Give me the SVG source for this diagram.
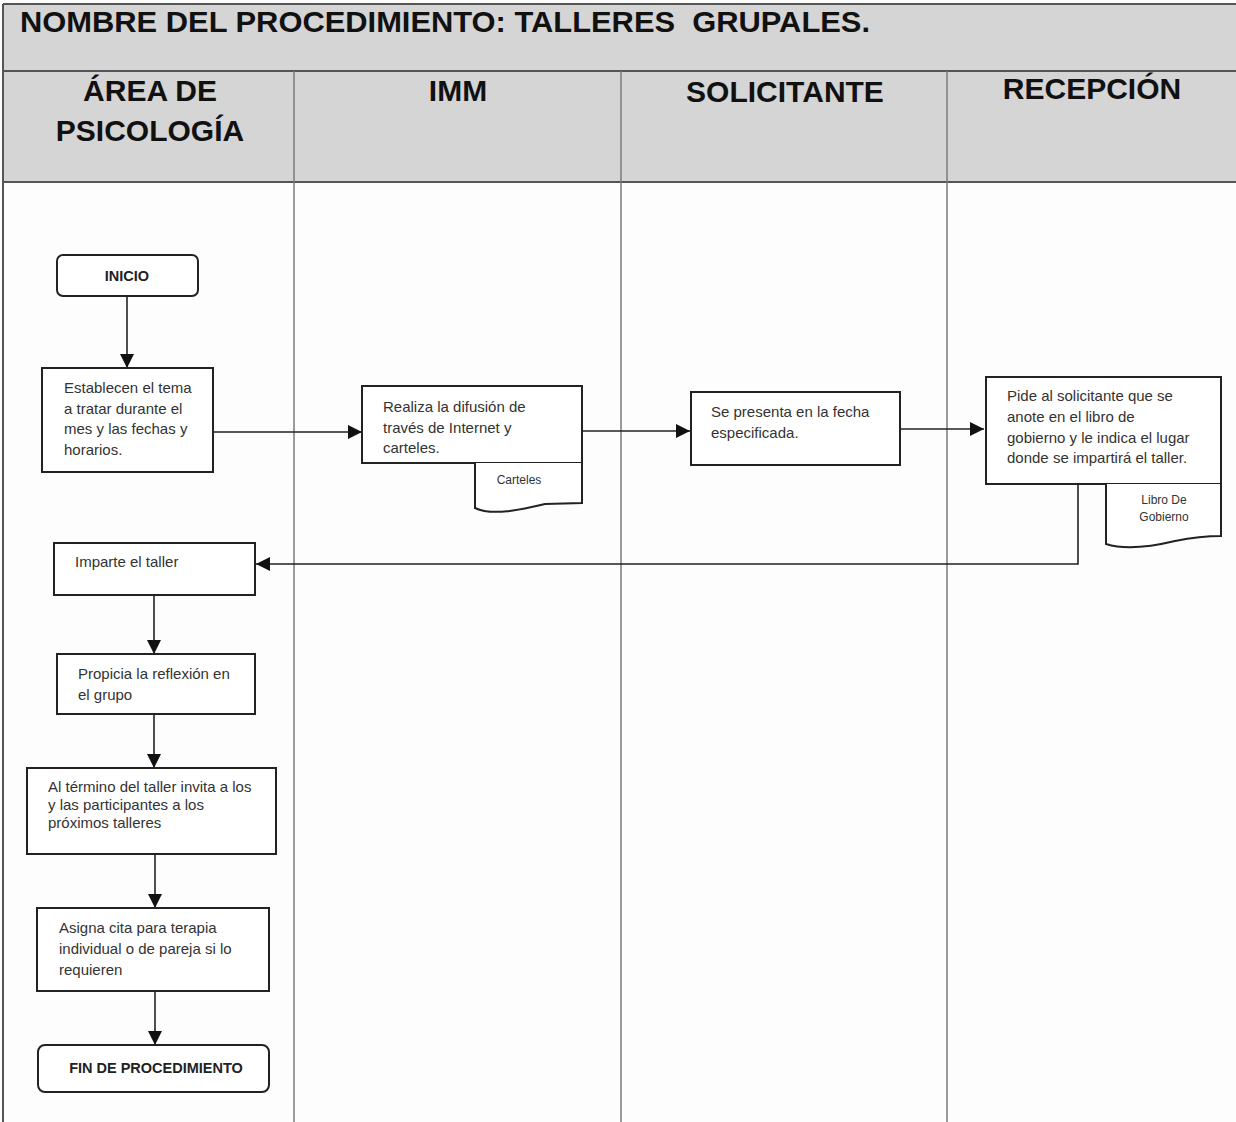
<svg xmlns="http://www.w3.org/2000/svg" width="1236" height="1122" viewBox="0 0 1236 1122">
  <style>
    .band { fill: #d5d5d5; }
    .rule { stroke: #555; stroke-width: 2; fill: none; }
    .lane { stroke: #7a7a7a; stroke-width: 1.5; fill: none; }
    .title { font-family: "Liberation Sans", Arial, sans-serif; font-weight: bold; font-size: 30px; fill: #111; }
    .head { font-family: "Liberation Sans", Arial, sans-serif; font-weight: bold; font-size: 30px; fill: #111; text-anchor: middle; }
    .box { fill: #fff; stroke: #222; stroke-width: 2; }
    .txt { font-family: "Liberation Sans", Arial, sans-serif; font-size: 15px; fill: #333; }
    .term { font-family: "Liberation Sans", Arial, sans-serif; font-weight: bold; font-size: 14.5px; fill: #222; text-anchor: middle; }
    .doc { font-family: "Liberation Sans", Arial, sans-serif; font-size: 12px; fill: #333; text-anchor: middle; }
    .flow { stroke: #222; stroke-width: 1.6; fill: none; }
  </style>
  <defs>
    <marker id="arrow" markerUnits="userSpaceOnUse" markerWidth="16" markerHeight="16" refX="14" refY="7" orient="auto">
      <path d="M0,0 L14,7 L0,14 Z" fill="#111"/>
    </marker>
  </defs>

  <!-- page background -->
  <rect x="0" y="0" width="1236" height="1122" fill="#fdfdfd"/>

  <!-- header band: procedure name and lane titles -->
  <g id="header">
    <rect class="band" x="3" y="4" width="1233" height="178"/>
    <line class="rule" x1="3" y1="4" x2="1236" y2="4"/>
    <line class="rule" x1="3" y1="4" x2="3" y2="1122"/>
    <line class="rule" x1="3" y1="71" x2="1236" y2="71"/>
    <line class="rule" x1="3" y1="182" x2="1236" y2="182"/>
    <text class="title" x="20" y="32" textLength="850" lengthAdjust="spacingAndGlyphs">NOMBRE DEL PROCEDIMIENTO: TALLERES&#160; GRUPALES.</text>
    <text class="head" x="150" y="101">ÁREA DE</text>
    <text class="head" x="150" y="141">PSICOLOGÍA</text>
    <text class="head" x="458" y="101">IMM</text>
    <text class="head" x="785" y="102">SOLICITANTE</text>
    <text class="head" x="1092" y="99">RECEPCIÓN</text>
  </g>

  <!-- swimlane dividers -->
  <g id="lanes">
    <line class="lane" x1="294" y1="71" x2="294" y2="1122"/>
    <line class="lane" x1="621" y1="71" x2="621" y2="1122"/>
    <line class="lane" x1="947" y1="71" x2="947" y2="1122"/>
  </g>

  <!-- connectors -->
  <g id="connectors">
    <line class="flow" x1="127" y1="296" x2="127" y2="368" marker-end="url(#arrow)"/>
    <line class="flow" x1="213" y1="432" x2="362" y2="432" marker-end="url(#arrow)"/>
    <line class="flow" x1="582" y1="431" x2="690" y2="431" marker-end="url(#arrow)"/>
    <line class="flow" x1="900" y1="429" x2="984" y2="429" marker-end="url(#arrow)"/>
    <polyline class="flow" points="1078,484 1078,564 256,564" marker-end="url(#arrow)"/>
    <line class="flow" x1="154" y1="595" x2="154" y2="654" marker-end="url(#arrow)"/>
    <line class="flow" x1="154" y1="714" x2="154" y2="768" marker-end="url(#arrow)"/>
    <line class="flow" x1="155" y1="854" x2="155" y2="908" marker-end="url(#arrow)"/>
    <line class="flow" x1="155" y1="991" x2="155" y2="1045" marker-end="url(#arrow)"/>
  </g>

  <g id="inicio">
    <rect class="box" x="57" y="255" width="141" height="41" rx="6"/>
    <text class="term" x="127" y="281">INICIO</text>
  </g>

  <g id="establecen">
    <rect class="box" x="42" y="368" width="171" height="104"/>
    <text class="txt" x="64" y="393">Establecen el tema</text>
    <text class="txt" x="64" y="414">a tratar durante el</text>
    <text class="txt" x="64" y="434">mes y las fechas y</text>
    <text class="txt" x="64" y="455">horarios.</text>
  </g>

  <g id="difusion">
    <rect class="box" x="362" y="386" width="220" height="77"/>
    <text class="txt" x="383" y="412">Realiza la difusión de</text>
    <text class="txt" x="383" y="433">través de Internet y</text>
    <text class="txt" x="383" y="453">carteles.</text>
  </g>

  <g id="carteles">
    <path class="box" d="M475,463 L475,508 C492,516 520,510 545,504 L582,503 L582,463"/>
    <text class="doc" x="519" y="484">Carteles</text>
  </g>

  <g id="presenta">
    <rect class="box" x="691" y="392" width="209" height="73"/>
    <text class="txt" x="711" y="417">Se presenta en la fecha</text>
    <text class="txt" x="711" y="438">especificada.</text>
  </g>

  <g id="anota">
    <rect class="box" x="986" y="377" width="235" height="107"/>
    <text class="txt" x="1007" y="401">Pide al solicitante que se</text>
    <text class="txt" x="1007" y="422">anote en el libro de</text>
    <text class="txt" x="1007" y="443">gobierno y le indica el lugar</text>
    <text class="txt" x="1007" y="463">donde se impartirá el taller.</text>
  </g>

  <g id="libro">
    <path class="box" d="M1106,484 L1106,544 C1125,550 1150,547 1175,541 C1195,537 1210,536 1221,536 L1221,484"/>
    <text class="doc" x="1164" y="504">Libro De</text>
    <text class="doc" x="1164" y="521">Gobierno</text>
  </g>

  <g id="imparte">
    <rect class="box" x="54" y="543" width="201" height="52"/>
    <text class="txt" x="75" y="567">Imparte el taller</text>
  </g>

  <g id="reflexion">
    <rect class="box" x="57" y="654" width="198" height="60"/>
    <text class="txt" x="78" y="679">Propicia la reflexión en</text>
    <text class="txt" x="78" y="700">el grupo</text>
  </g>

  <g id="invita">
    <rect class="box" x="27" y="768" width="249" height="86"/>
    <text class="txt" x="48" y="792">Al término del taller invita a los</text>
    <text class="txt" x="48" y="810">y las participantes a los</text>
    <text class="txt" x="48" y="828">próximos talleres</text>
  </g>

  <g id="cita">
    <rect class="box" x="37" y="908" width="232" height="83"/>
    <text class="txt" x="59" y="933">Asigna cita para terapia</text>
    <text class="txt" x="59" y="954">individual o de pareja si lo</text>
    <text class="txt" x="59" y="975">requieren</text>
  </g>

  <g id="fin">
    <rect class="box" x="38" y="1045" width="231" height="47" rx="7"/>
    <text class="term" x="156" y="1073">FIN DE PROCEDIMIENTO</text>
  </g>
</svg>
